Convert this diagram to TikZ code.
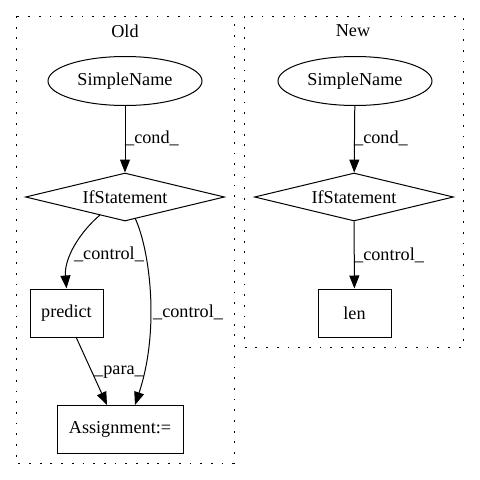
\documentclass[tikz,border=0pt]{standalone}
\usepackage{fontspec}
\setmainfont{Liberation Serif}
\usetikzlibrary{shapes.geometric,arrows.meta}
\begin{document}
\begin{tikzpicture}[x=1pt,y=-1pt,
  every node/.style={font=\fontsize{18.2pt}{21pt}\selectfont},
  cluster/.style={draw, line width=1pt, dash pattern=on 1.8pt off 8.9pt},
  ell/.style={draw, line width=1pt, ellipse, minimum width=154pt, minimum height=49pt, inner sep=0pt},
  dia/.style={draw, line width=1pt, diamond, aspect=4.1, minimum width=199pt, minimum height=48pt, inner sep=0pt},
  box/.style={draw, line width=1pt, rectangle, minimum height=48pt, inner sep=0pt},
  edge/.style={draw, line width=1pt, -{Triangle[length=13pt,width=10pt]}},
  lbl/.style={inner sep=1pt}
]
\useasboundingbox (0,0) rectangle (480,480);
% clusters
\draw[cluster] (16,16) rectangle (234,463);
\draw[cluster] (244,16) rectangle (463,347);
\node (oldt) at (125,31) {Old};
\node (newt) at (353,31) {New};
% Old nodes
\node[ell] (osn) at (125,81) {SimpleName};
\node[dia] (oif) at (125,197) {IfStatement};
\node[box, minimum width=73pt] (pred) at (66.5,313) {predict};
\node[box, minimum width=126pt] (asg) at (120,429) {Assignment:=};
% New nodes
\node[ell] (nsn) at (355,81) {SimpleName};
\node[dia] (nif) at (354,197) {IfStatement};
\node[box, minimum width=73pt] (len) at (354.5,313) {len};
% edges Old
\draw[edge] (osn) -- (oif);
\node[lbl, anchor=west] (l1) at (124,138) {\_cond\_};
\draw[edge] (100,215) .. controls (80,232) and (64,258) .. (pred.north);
\node[lbl] (l2) at (109,254) {\_control\_};
\draw[edge] (135,218) .. controls (150,250) and (160,330) .. (135,405);
\node[lbl, anchor=west] (l3) at (152,312) {\_control\_};
\draw[edge] (76,337) -- (107,405);
\node[lbl] (l4) at (119,372) {\_para\_};
% edges New
\draw[edge] (nsn) -- (nif);
\node[lbl, anchor=west] (l5) at (353,138) {\_cond\_};
\draw[edge] (nif) -- (len);
\node[lbl, anchor=west] (l6) at (353,255) {\_control\_};
\end{tikzpicture}
\end{document}
